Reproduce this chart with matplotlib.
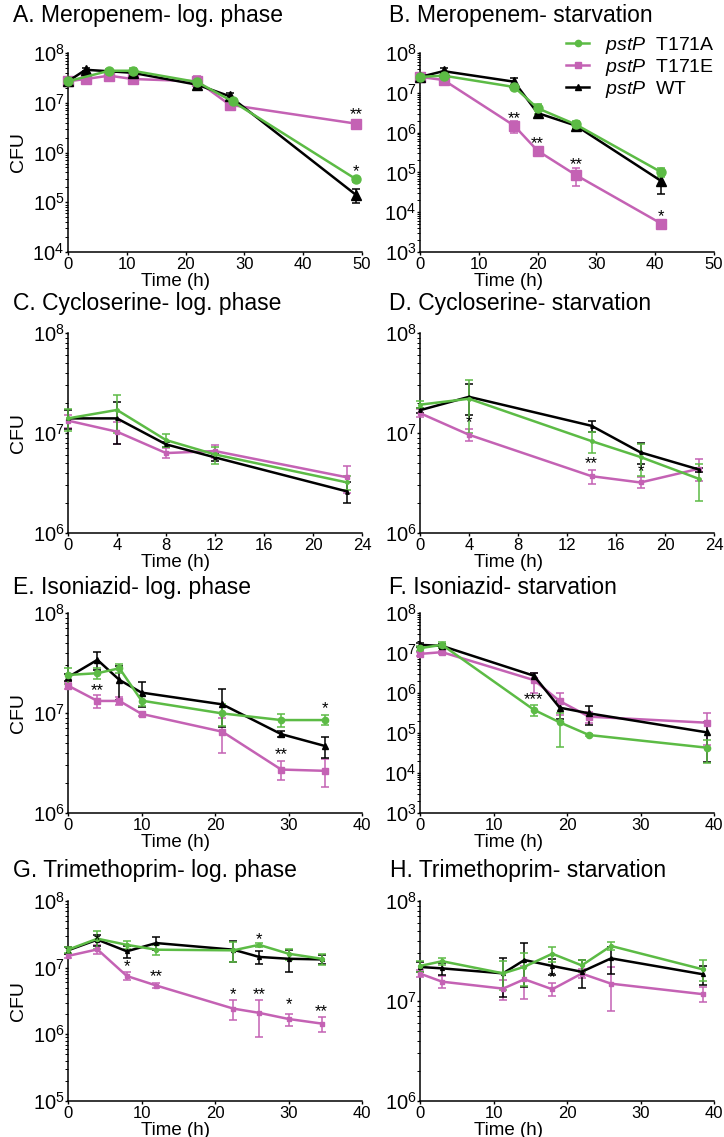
import matplotlib
matplotlib.use('Agg')
import matplotlib.pyplot as plt
from matplotlib.ticker import LogLocator, NullFormatter, FixedLocator, LogFormatterSciNotation
from matplotlib.lines import Line2D

plt.rcParams['font.family'] = ['Liberation Sans', 'DejaVu Sans']
plt.rcParams['mathtext.fontset'] = 'custom'
plt.rcParams['mathtext.rm'] = 'Liberation Sans'
plt.rcParams['mathtext.it'] = 'Liberation Sans:italic'
plt.rcParams['mathtext.bf'] = 'Liberation Sans:bold'

# ---------------- data ----------------
# A. Meropenem - log phase
tA_g = [0, 7, 11, 22, 28, 49]
yA_g = [2.7e7, 4.4e7, 4.4e7, 2.6e7, 1.06e7, 2.9e5]
eA_g = [2e6, 3e6, 7e6, 6e6, 1e6, 3e4]
tA_m = [0, 3, 7, 11, 22, 27.5, 49]
yA_m = [2.7e7, 3.0e7, 3.5e7, 3.0e7, 2.7e7, 9.1e6, 3.8e6]
eA_m = [2e6, 5e6, 4e6, 5e6, 7e6, 1.5e6, 8e5]
tA_k = [0, 3, 11, 22, 27.5, 49]
yA_k = [2.7e7, 4.6e7, 4.0e7, 2.3e7, 1.35e7, 1.4e5]
eA_k = [2e6, 3e6, 3e6, 3e6, 2e6, 4.5e4]
sA_x = [3, 49, 49]
sA_y = [3.65e7, 5.7e6, 4.1e5]
sA_t = ['*', '**', '*']

# B. Meropenem - starvation
tB = [0, 4, 16, 20, 26.5, 41]
yB_g = [2.5e7, 2.7e7, 1.4e7, 4.1e6, 1.6e6, 1.02e5]
eB_g = [2e6, 5e6, 1.5e6, 1.2e6, 4e5, 2.5e4]
yB_m = [2.5e7, 2.1e7, 1.5e6, 3.5e5, 8.6e4, 5.2e3]
eB_m = [2e6, 4e6, 5e5, 3e4, 4e4, 5e2]
yB_k = [2.5e7, 3.5e7, 1.9e7, 3.1e6, 1.5e6, 6.1e4]
eB_k = [2e6, 8e6, 4e6, 8e5, 3e5, 3.3e4]
sB_x = [16, 20, 26.5, 41]
sB_y = [2.3e6, 5.2e5, 1.6e5, 7.6e3]
sB_t = ['**', '**', '**', '*']

# C. Cycloserine - log phase
tC = [0, 4, 8, 12, 22.8]
yC_g = [1.4e7, 1.7e7, 8.5e6, 6.1e6, 3.2e6]
eC_g = [3.5e6, 7e6, 1.3e6, 1.2e6, 5e5]
yC_m = [1.33e7, 1.03e7, 6.3e6, 6.6e6, 3.6e6]
eC_m = [2e6, 2.5e6, 7e5, 1e6, 1.1e6]
yC_k = [1.4e7, 1.4e7, 7.7e6, 5.7e6, 2.6e6]
eC_k = [3e6, 6.3e6, 5e5, 5e5, 6e5]
sC_x = []
sC_y = []
sC_t = []

# D. Cycloserine - starvation
tD = [0, 4, 14, 18, 22.8]
yD_g = [1.92e7, 2.2e7, 8.3e6, 5.75e6, 3.47e6]
eD_g = [1.5e6, 1.2e7, 2e6, 2e6, 1.4e6]
yD_m = [1.58e7, 9.6e6, 3.7e6, 3.2e6, 4.4e6]
eD_m = [1.5e6, 1.3e6, 6e5, 4e5, 1.1e6]
yD_k = [1.69e7, 2.3e7, 1.18e7, 6.4e6, 4.3e6]
eD_k = [1e6, 8e6, 1.5e6, 1.5e6, 2e5]
sD_x = [4, 14, 18]
sD_y = [1.28e7, 4.9e6, 4.1e6]
sD_t = ['*', '**', '*']

# E. Isoniazid - log phase
tE = [0, 4, 7, 10, 21, 29, 35]
yE_g = [2.4e7, 2.5e7, 2.8e7, 1.33e7, 9.9e6, 8.5e6, 8.5e6]
eE_g = [4.5e6, 3e6, 3e6, 1.5e6, 2.5e6, 1.3e6, 1e6]
yE_m = [1.88e7, 1.32e7, 1.32e7, 9.8e6, 6.5e6, 2.72e6, 2.64e6]
eE_m = [1.5e6, 2e6, 1.2e6, 5e5, 2.5e6, 6e5, 8e5]
yE_k = [2.28e7, 3.4e7, 2.14e7, 1.6e7, 1.22e7, 6.15e6, 4.67e6]
eE_k = [2e6, 7e6, 8e6, 4.5e6, 5e6, 4e5, 1.1e6]
sE_x = [4, 29, 35]
sE_y = [1.67e7, 3.8e6, 1.11e7]
sE_t = ['**', '**', '*']

# F. Isoniazid - starvation
tF = [0, 3, 15.5, 19, 23, 39]
yF_g = [1.32e7, 1.6e7, 3.8e5, 1.85e5, 8.9e4, 4.3e4]
eF_g = [2e6, 3e6, 1.2e5, 1.4e5, 5e3, 2.5e4]
yF_m = [9.5e6, 1.05e7, 2.1e6, 6.3e5, 2.56e5, 1.81e5]
eF_m = [1e6, 1e6, 1.1e6, 3.5e5, 8e4, 1.3e5]
yF_k = [1.6e7, 1.5e7, 2.7e6, 4.3e5, 3.1e5, 1.04e5]
eF_k = [1.5e6, 1.5e6, 5e5, 2e5, 1.5e5, 8.5e4]
sF_x = [15.5]
sF_y = [6.7e5]
sF_t = ['***']

# G. Trimethoprim - log phase
tG = [0, 4, 8, 12, 22.5, 26, 30, 34.5]
yG_g = [1.86e7, 2.72e7, 2.2e7, 1.86e7, 1.82e7, 2.2e7, 1.62e7, 1.36e7]
eG_g = [2e6, 8e6, 3e6, 3e6, 6e6, 1.5e6, 3e6, 2.5e6]
yG_m = [1.5e7, 1.88e7, 7.5e6, 5.4e6, 2.43e6, 2.1e6, 1.7e6, 1.45e6]
eG_m = [1e6, 3e6, 1e6, 4e5, 8e5, 1.2e6, 3.5e5, 3.5e5]
yG_k = [1.82e7, 2.63e7, 1.76e7, 2.34e7, 1.86e7, 1.45e7, 1.36e7, 1.33e7]
eG_k = [2e6, 5e6, 3.5e6, 5e6, 6.5e6, 3e6, 5e6, 2e6]
sG_x = [4, 8, 12, 22.5, 26, 30, 34.5, 26]
sG_y = [2.57e7, 1.02e7, 7.4e6, 4.0e6, 4.0e6, 2.8e6, 2.16e6, 2.63e7]
sG_t = ['*', '*', '**', '*', '**', '*', '**', '*']

# H. Trimethoprim - starvation
tH = [0, 3, 11.3, 14.2, 18, 22, 26, 38.5]
yH_g = [2.24e7, 2.5e7, 1.89e7, 2.2e7, 2.97e7, 2.27e7, 3.55e7, 2.07e7]
eH_g = [3e6, 2e6, 6e6, 8e6, 5e6, 3e6, 3e6, 5e6]
yH_m = [1.88e7, 1.56e7, 1.33e7, 1.65e7, 1.31e7, 1.88e7, 1.49e7, 1.17e7]
eH_m = [1.5e6, 2e6, 3e6, 6e6, 2e6, 2e6, 7e6, 2e6]
yH_k = [2.19e7, 2.12e7, 1.89e7, 2.57e7, 2.24e7, 1.96e7, 2.67e7, 1.85e7]
eH_k = [2.5e6, 3e6, 8e6, 1.2e7, 4e6, 6e6, 8e6, 4e6]
sH_x = [18]
sH_y = [1.71e7]
sH_t = ['*']

strain_labels = [r'$\it{pstP}$  T171A', r'$\it{pstP}$  T171E', r'$\it{pstP}$  WT']
titles = ['A. Meropenem- log. phase', 'B. Meropenem- starvation',
          'C. Cycloserine- log. phase', 'D. Cycloserine- starvation',
          'E. Isoniazid- log. phase', 'F. Isoniazid- starvation',
          'G. Trimethoprim- log. phase', 'H. Trimethoprim- starvation']

# ---------------- styling ----------------
GREEN = '#5cbb45'
MAGENTA = '#c462b4'
BLACK = '#000000'

W, H = 724, 1137
fig = plt.figure(figsize=(W / 100, H / 100), dpi=100)

col_left = [68, 420]
ax_w = 294
rows = [(53, 252), (333, 533), (613, 813), (901, 1101)]
title_pos = [(13, 22), (389, 22), (13, 310), (389, 310),
             (13, 594), (389, 594), (13, 877), (390, 877)]

panels = [
    dict(g=(tA_g, yA_g, eA_g), m=(tA_m, yA_m, eA_m), k=(tA_k, yA_k, eA_k),
         s=(sA_x, sA_y, sA_t), xmax=50, xt=range(0, 51, 10), ylo=1e4, ms=6.5),
    dict(g=(tB, yB_g, eB_g), m=(tB, yB_m, eB_m), k=(tB, yB_k, eB_k),
         s=(sB_x, sB_y, sB_t), xmax=50, xt=range(0, 51, 10), ylo=1e3, ms=6.5),
    dict(g=(tC, yC_g, eC_g), m=(tC, yC_m, eC_m), k=(tC, yC_k, eC_k),
         s=(sC_x, sC_y, sC_t), xmax=24, xt=range(0, 25, 4), ylo=1e6, ms=2.5),
    dict(g=(tD, yD_g, eD_g), m=(tD, yD_m, eD_m), k=(tD, yD_k, eD_k),
         s=(sD_x, sD_y, sD_t), xmax=24, xt=range(0, 25, 4), ylo=1e6, ms=2.5),
    dict(g=(tE, yE_g, eE_g), m=(tE, yE_m, eE_m), k=(tE, yE_k, eE_k),
         s=(sE_x, sE_y, sE_t), xmax=40, xt=range(0, 41, 10), ylo=1e6, ms=4.5),
    dict(g=(tF, yF_g, eF_g), m=(tF, yF_m, eF_m), k=(tF, yF_k, eF_k),
         s=(sF_x, sF_y, sF_t), xmax=40, xt=range(0, 41, 10), ylo=1e3, ms=4.5),
    dict(g=(tG, yG_g, eG_g), m=(tG, yG_m, eG_m), k=(tG, yG_k, eG_k),
         s=(sG_x, sG_y, sG_t), xmax=40, xt=range(0, 41, 10), ylo=1e5, ms=2.8),
    dict(g=(tH, yH_g, eH_g), m=(tH, yH_m, eH_m), k=(tH, yH_k, eH_k),
         s=(sH_x, sH_y, sH_t), xmax=40, xt=range(0, 41, 10), ylo=1e6, ms=2.8),
]

for i, p in enumerate(panels):
    r, c = divmod(i, 2)
    top, bot = rows[r]
    ax = fig.add_axes([col_left[c] / W, 1 - bot / H, ax_w / W, (bot - top) / H])
    ax.set_yscale('log')
    for key, color, marker in [('m', MAGENTA, 's'), ('k', BLACK, '^'), ('g', GREEN, 'o')]:
        t, y, e = p[key]
        h = ax.errorbar(t, y, yerr=e, color=color, marker=marker, ms=p['ms'],
                        lw=1.8, elinewidth=1.1, capsize=3.2, capthick=1.1,
                        clip_on=False, zorder=3)
        for cl in h.lines[1]:
            cl.set_clip_on(False)
        for lc in h.lines[2]:
            lc.set_clip_on(False)
    sx, sy, st = p['s']
    for x, y, t in zip(sx, sy, st):
        ax.text(x, y, t, ha='center', va='center', fontsize=12, color='black', zorder=5)
    ax.set_xlim(0, p['xmax'])
    ax.set_ylim(p['ylo'], 1e8)
    ax.xaxis.set_major_locator(FixedLocator(list(p['xt'])))
    ax.yaxis.set_major_locator(LogLocator(base=10, numticks=12))
    ax.yaxis.set_minor_locator(LogLocator(base=10, subs=range(2, 10), numticks=12))
    ax.yaxis.set_minor_formatter(NullFormatter())
    ax.yaxis.set_major_formatter(LogFormatterSciNotation())
    for s in ['top', 'right']:
        ax.spines[s].set_visible(False)
    for s in ['left', 'bottom']:
        ax.spines[s].set_linewidth(1.1)
    ax.tick_params(axis='both', which='major', direction='out', length=2.5, width=1.0)
    ax.tick_params(axis='y', which='minor', direction='out', length=2.0, width=0.7)
    ax.tick_params(axis='x', labelsize=12, pad=0.8)
    ax.tick_params(axis='y', labelsize=14.5, pad=0.0)
    ax.set_xlabel('Time (h)', fontsize=13.5, labelpad=0)
    ax.xaxis.set_label_coords(0.364 if c == 0 else 0.30, -21 / (bot - top))
    ax.xaxis.label.set_va('top')
    if c == 0:
        ax.set_ylabel('CFU', fontsize=14)
        ax.yaxis.set_label_coords((19 - 68) / ax_w, 0.5)
        ax.yaxis.label.set_va('center')
    tx, ty = title_pos[i]
    fig.text(tx / W, 1 - ty / H, titles[i], fontsize=16.5, ha='left', va='baseline')

# legend in panel B
leg_handles = [Line2D([], [], color=GREEN, marker='o', ms=4.5, lw=1.8),
               Line2D([], [], color=MAGENTA, marker='s', ms=4.5, lw=1.8),
               Line2D([], [], color=BLACK, marker='^', ms=4.5, lw=1.8)]
fig.legend(leg_handles, strain_labels, loc='upper left',
           bbox_to_anchor=(566 / W, 1 - 35 / H), frameon=False, fontsize=14,
           handlelength=1.2, handletextpad=0.8, labelspacing=0.05, borderpad=0,
           borderaxespad=0)

fig.savefig('out.png', dpi=100)
